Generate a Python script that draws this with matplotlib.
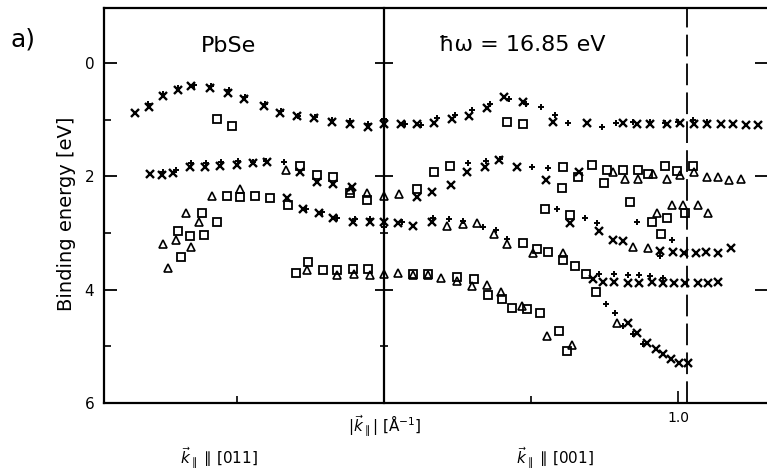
import matplotlib
matplotlib.use("Agg")
import matplotlib.pyplot as plt
from matplotlib.ticker import MultipleLocator

# ---- data: k_parallel (1/A, negative = [011] direction, positive = [001]) and binding energy (eV)
cross_k = [-0.847, -0.799, -0.752, -0.701, -0.656, -0.592, -0.531, -0.476, -0.408, -0.354, -0.296, -0.238,
           -0.177, -0.116, -0.054, 0.0,
           0.058, 0.112, 0.170, 0.231, 0.289, 0.350, 0.408, 0.473, 0.575, 0.690, 0.813, 0.861, 0.905, 0.963,
           1.007, 1.054, 1.099, 1.146, 1.187, 1.231, 1.272,
           -0.796, -0.755, -0.718, -0.660, -0.609, -0.558, -0.500, -0.446, -0.398, -0.286, -0.228, -0.173, -0.109,
           -0.330, -0.276, -0.221, -0.173, -0.105, -0.048, 0.0,
           0.112, 0.163, 0.228, 0.282, 0.344, 0.391, 0.452, 0.551, 0.663,
           0.048, 0.099, 0.163, 0.633, 0.731, 0.779, 0.813, 0.939, 0.983, 1.020, 1.061, 1.095, 1.136, 1.180,
           0.711, 0.745, 0.782, 0.830, 0.867, 0.912, 0.949, 0.986, 1.024, 1.068, 1.102, 1.136,
           0.830, 0.861, 0.895, 0.925, 0.949, 0.976, 1.003, 1.034]
cross_E = [0.885, 0.78, 0.58, 0.48, 0.41, 0.44, 0.53, 0.64, 0.76, 0.885, 0.94, 0.97,
           1.04, 1.08, 1.13, 1.08,
           1.08, 1.08, 1.06, 0.99, 0.94, 0.80, 0.60, 0.69, 1.04, 1.06, 1.06, 1.08, 1.08, 1.08,
           1.06, 1.08, 1.08, 1.08, 1.08, 1.10, 1.10,
           1.96, 1.98, 1.95, 1.84, 1.84, 1.82, 1.80, 1.77, 1.75, 1.93, 2.10, 2.14, 2.19,
           2.39, 2.57, 2.65, 2.73, 2.80, 2.80, 2.81,
           2.37, 2.28, 2.16, 1.93, 1.84, 1.72, 1.84, 2.07, 1.93,
           2.83, 2.88, 2.81, 2.83, 2.96, 3.12, 3.15, 3.31, 3.33, 3.35, 3.36, 3.33, 3.35, 3.27,
           3.82, 3.86, 3.86, 3.89, 3.89, 3.86, 3.89, 3.89, 3.89, 3.89, 3.89, 3.86,
           4.58, 4.76, 4.94, 5.04, 5.13, 5.22, 5.29, 5.29]

plus_k = [-0.803, -0.752, -0.701, -0.646, -0.588, -0.527, -0.473, -0.405, -0.350, -0.293, -0.235, -0.177,
          -0.116, -0.054, 0.0,
          0.071, 0.126, 0.180, 0.241, 0.299, 0.360, 0.425, 0.483, 0.534, 0.582, 0.626, 0.741, 0.789, 0.847,
          0.905, 0.956, 1.000, 1.051, 1.099,
          -0.752, -0.707, -0.656, -0.605, -0.554, -0.497, -0.446, -0.401, -0.340,
          -0.265, -0.210, -0.160, -0.100, -0.048, 0.0,
          0.286, 0.347, 0.395, 0.503, 0.558,
          0.060, 0.167, 0.220, 0.270, 0.337, 0.380, 0.420, 0.588, 0.684, 0.724, 0.861, 0.980, 0.939,
          0.731, 0.782, 0.830, 0.867, 0.905, 0.949,
          0.755, 0.786, 0.813, 0.847, 0.880]
plus_E = [0.73, 0.55, 0.44, 0.39, 0.41, 0.48, 0.60, 0.73, 0.85, 0.94, 0.96, 1.01,
          1.03, 1.08, 0.99,
          1.08, 1.10, 0.97, 0.92, 0.83, 0.73, 0.64, 0.73, 0.78, 0.92, 1.06, 1.13, 1.06, 1.04,
          1.04, 1.06, 1.04, 1.01, 1.04,
          1.93, 1.88, 1.77, 1.77, 1.75, 1.73, 1.75, 1.73, 1.75,
          2.57, 2.63, 2.73, 2.76, 2.76, 2.90,
          1.77, 1.73, 1.70, 1.84, 1.86,
          2.81, 2.73, 2.75, 2.78, 2.90, 2.95, 3.10, 2.58, 2.73, 2.83, 2.81, 3.13, 3.40,
          3.72, 3.72, 3.74, 3.74, 3.76, 3.79,
          4.25, 4.42, 4.65, 4.78, 4.96]

tri_k = [-0.333, -0.490, -0.585, -0.673, -0.629, -0.707, -0.752, -0.656, -0.735, -0.116, -0.058, 0.0,
         -0.262, -0.160, -0.102, -0.048, 0.0,
         0.051, 0.780, 0.820, 0.864, 0.915, 0.963, 1.007, 1.054, 1.099, 1.136, 1.173, 1.214,
         0.214, 0.269, 0.316, 0.374, 0.418, 0.507, 0.609, 0.929, 0.980, 1.017, 1.068, 1.102, 0.847, 0.898, 0.793,
         0.048, 0.099, 0.150, 0.194, 0.248, 0.299, 0.350, 0.398, 0.469, 0.554, 0.639]
tri_E = [1.89, 2.23, 2.35, 2.64, 2.80, 3.13, 3.20, 3.24, 3.61, 2.25, 2.30, 2.34,
         3.66, 3.75, 3.72, 3.75, 3.72,
         2.32, 1.93, 2.04, 2.05, 1.96, 2.04, 1.98, 1.93, 2.02, 2.02, 2.07, 2.05,
         2.87, 2.85, 2.83, 3.01, 3.19, 3.35, 3.36, 2.64, 2.51, 2.50, 2.51, 2.65, 3.24, 3.26, 4.58,
         3.70, 3.75, 3.75, 3.79, 3.85, 3.93, 3.91, 4.05, 4.28, 4.81, 4.97]

sq_k = [-0.568, -0.517,
        -0.286, -0.228, -0.173, -0.116, -0.058,
        -0.534, -0.490, -0.439, -0.388, -0.327, -0.619, -0.568, -0.701, -0.660, -0.612, -0.690,
        -0.299, -0.259, -0.207, -0.160, -0.105, -0.054,
        0.418, 0.473,
        0.112, 0.170, 0.224, 0.609, 0.605, 0.660, 0.707, 0.759, 0.748, 0.813, 0.864, 0.898, 0.956, 0.997, 1.051,
        0.473, 0.520, 0.558, 0.609, 0.650, 0.548, 0.633, 0.837, 0.963, 0.912, 1.024, 0.942,
        0.099, 0.150, 0.248, 0.306, 0.354, 0.401, 0.435, 0.486, 0.531, 0.595, 0.622, 0.687, 0.721]
sq_E = [0.99, 1.11,
        1.82, 1.98, 2.02, 2.30, 2.41,
        2.35, 2.36, 2.34, 2.39, 2.50, 2.65, 2.81, 2.96, 3.06, 3.04, 3.43,
        3.70, 3.52, 3.66, 3.65, 3.63, 3.63,
        1.04, 1.08,
        2.23, 1.93, 1.82, 1.84, 2.21, 2.02, 1.80, 1.89, 2.12, 1.88, 1.88, 1.96, 1.82, 1.91, 1.82,
        3.17, 3.29, 3.33, 3.47, 3.58, 2.58, 2.69, 2.46, 2.73, 2.81, 2.64, 3.01,
        3.72, 3.72, 3.77, 3.82, 4.09, 4.16, 4.32, 4.35, 4.41, 4.73, 5.08, 3.73, 4.04]

y_ticks = [0, 2, 4, 6]
x_major_ticks = [1.0]
x_major_labels = ["1.0"]
x_minor_ticks = [-0.5, 0.5]
zone_boundary = 1.03
k_min, k_max = -0.952, 1.306
E_top, E_bottom = -0.97, 6.0

# ---- figure
plt.rcParams['font.family'] = ['DejaVu Sans']
fig = plt.figure(figsize=(7.67, 4.73), dpi=100)
W, H = 767, 473
ax = fig.add_axes([104 / W, 70 / H, (768 - 104) / W, (403 - 8) / H])
ax.set_xlim(k_min, k_max)
ax.set_ylim(E_bottom, E_top)

for s in ax.spines.values():
    s.set_linewidth(1.6)
ax.spines['right'].set_visible(False)

ax.yaxis.set_ticks_position('both')
ax.set_yticks(y_ticks)
ax.yaxis.set_minor_locator(MultipleLocator(1))
ax.tick_params(axis='y', which='major', direction='in', length=9.5, width=1.3,
               labelsize=11, pad=7, left=True, right=True)
ax.tick_params(axis='y', which='minor', direction='in', length=5, width=1.2, left=True, right=False)

ax.set_xticks(x_major_ticks)
ax.set_xticklabels(x_major_labels)
ax.set_xticks(x_minor_ticks, minor=True)
ax.tick_params(axis='x', which='major', direction='in', length=9, width=1.2, labelsize=10, pad=6)
ax.tick_params(axis='x', which='minor', direction='in', length=5, width=1.2)

# central axis at k = 0 with crossing ticks
sec = ax.secondary_yaxis((0 - k_min) / (k_max - k_min))
for s in sec.spines.values():
    s.set_linewidth(1.6)
sec.set_yticks(y_ticks[:-1])
sec.yaxis.set_minor_locator(MultipleLocator(1))
sec.tick_params(which='major', direction='inout', length=13, width=1.3, labelleft=False, labelright=False)
sec.tick_params(which='minor', direction='inout', length=6, width=1.2, labelleft=False, labelright=False)

# zone boundary dashed line
ax.axvline(zone_boundary, color='black', lw=1.3, ls=(0, (12, 4)))

# data markers
ax.plot(cross_k, cross_E, ls='none', marker='x', ms=6, mew=1.7, color='black')
ax.plot(plus_k, plus_E, ls='none', marker='+', ms=4.5, mew=1.4, color='black')
ax.plot(tri_k, tri_E, ls='none', marker='^', ms=5.5, mew=1.2, mfc='none', mec='black')
ax.plot(sq_k, sq_E, ls='none', marker='s', ms=6, mew=1.3, mfc='none', mec='black')

# texts
fig.text(67 / W, 1 - 214 / H, 'Binding energy [eV]', fontsize=14, rotation=90, ha='center', va='center')
fig.text(10 / W, 1 - 40 / H, 'a)', fontsize=18, ha='left', va='center')
ax.text(-0.53, -0.30, 'PbSe', fontsize=16, ha='center', va='center')
ax.text(0.47, -0.32, r'ħω = 16.85 eV', fontsize=16, ha='center', va='center')
fig.text(385 / W, 1 - 426 / H, r'$|\vec{k}_{\parallel}|$ [Å$^{-1}$]', fontsize=11, ha='center', va='center')
fig.text(219 / W, 1 - 458 / H, r'$\vec{k}_{\parallel}$ ∥ [011]', fontsize=11, ha='center', va='center')
fig.text(555 / W, 1 - 458 / H, r'$\vec{k}_{\parallel}$ ∥ [001]', fontsize=11, ha='center', va='center')

fig.savefig('out.png', dpi=100, facecolor='white')
